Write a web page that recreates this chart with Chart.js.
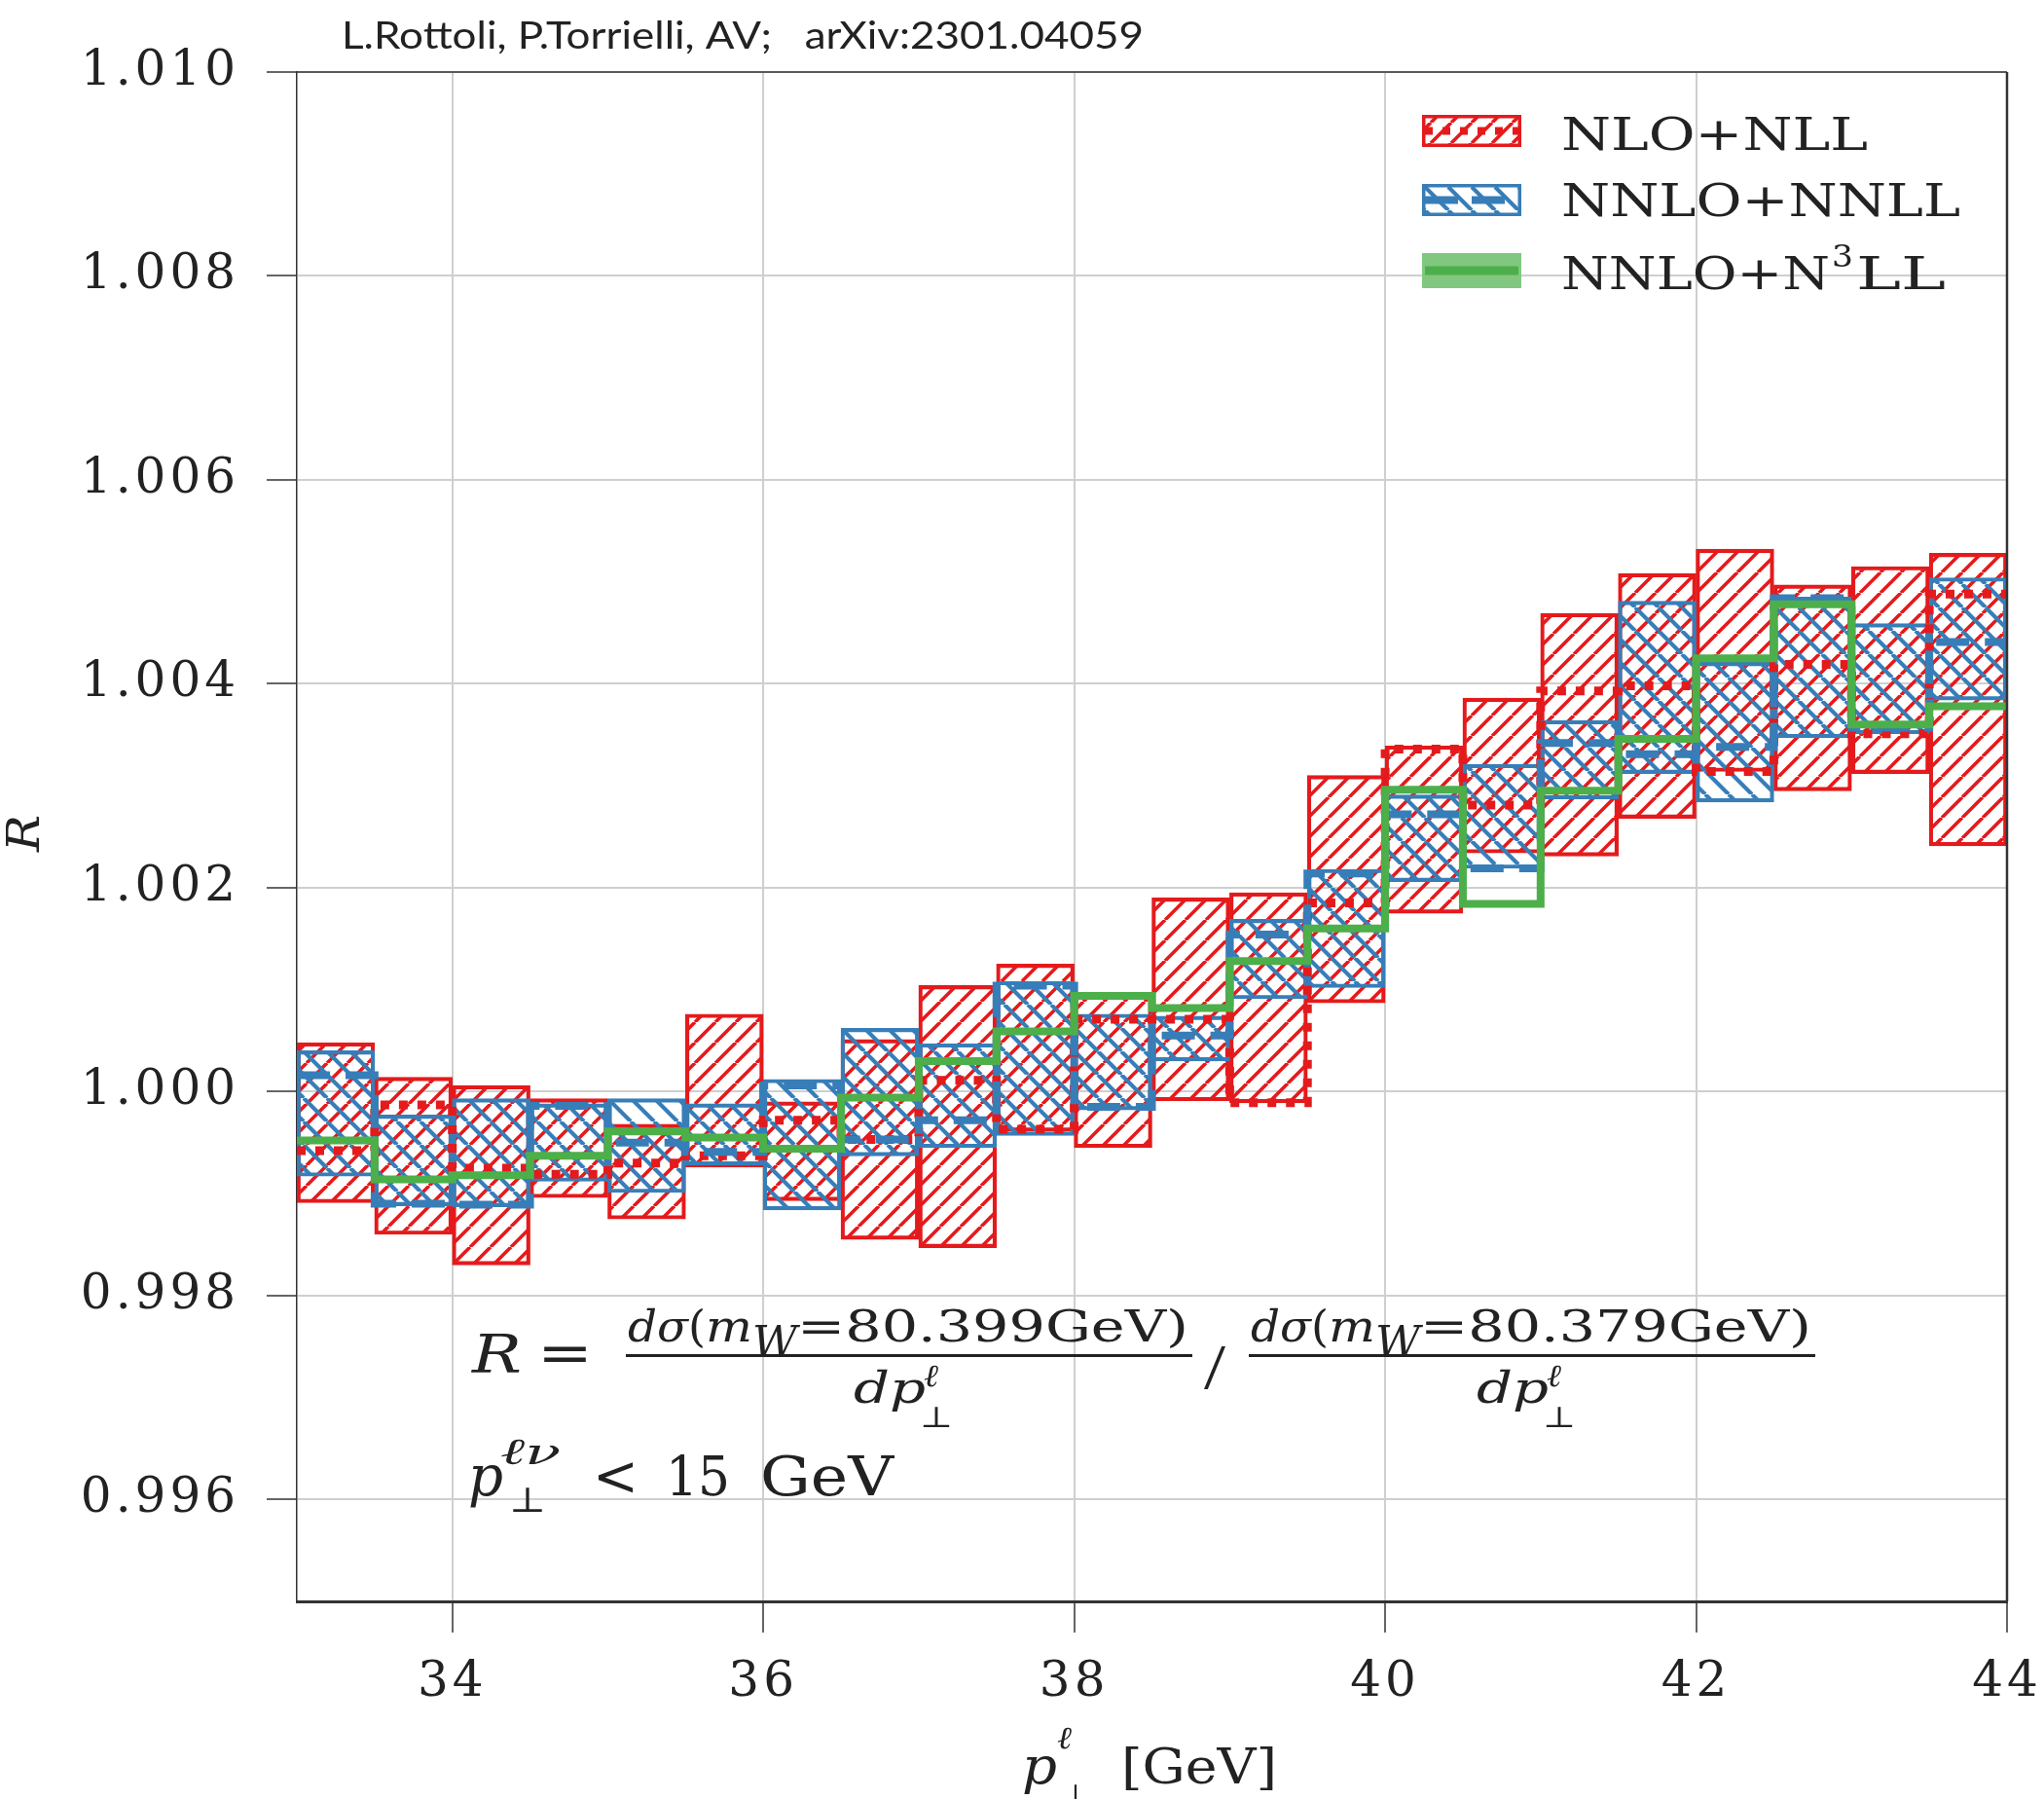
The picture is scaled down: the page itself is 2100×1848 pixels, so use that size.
<!DOCTYPE html>
<html>
<head>
<meta charset="utf-8">
<script src="https://cdn.jsdelivr.net/npm/chart.js@4.4.1/dist/chart.umd.min.js"></script>
<style>
  html, body { margin: 0; padding: 0; background: #fff; }
  #wrap { width: 2100px; height: 1848px; }
</style>
</head>
<body>
<div id="wrap"><canvas id="myChart" width="2100" height="1848"></canvas></div>
<script>
// lower edge of each p_T bin (GeV), bins are 0.5 GeV wide
const binLo = [33.0, 33.5, 34.0, 34.5, 35.0, 35.5, 36.0, 36.5, 37.0, 37.5, 38.0,
               38.5, 39.0, 39.5, 40.0, 40.5, 41.0, 41.5, 42.0, 42.5, 43.0, 43.5];
const binWidth = 0.5;

// NLO+NLL band (red) and central value
const nloUp  = [1.00048, 1.00014, 1.00006, 0.99993, 0.99968, 1.00076, 0.99990, 1.00051, 1.00104, 1.00125, 1.00096,
                1.00190, 1.00195, 1.00310, 1.00339, 1.00386, 1.00469, 1.00508, 1.00532, 1.00497, 1.00515, 1.00528];
const nloLo  = [0.99891, 0.99860, 0.99830, 0.99896, 0.99875, 0.99926, 0.99893, 0.99855, 0.99847, 0.99961, 0.99945,
                0.99991, 0.99989, 1.00087, 1.00175, 1.00234, 1.00231, 1.00268, 1.00314, 1.00295, 1.00312, 1.00241];
const nloMid = [0.99942, 0.99987, 0.99925, 0.99919, 0.99930, 0.99937, 0.99972, 0.99953, 1.00011, 0.99963, 1.00071,
                1.00071, 0.99989, 1.00185, 1.00336, 1.00281, 1.00393, 1.00398, 1.00314, 1.00419, 1.00351, 1.00488];

// NNLO+NNLL band (blue) and central value
const nnloUp  = [1.00040, 0.99977, 0.99993, 0.99988, 0.99993, 0.99988, 1.00012, 1.00062, 1.00047, 1.00108, 1.00076,
                 1.00074, 1.00169, 1.00218, 1.00291, 1.00321, 1.00364, 1.00481, 1.00421, 1.00485, 1.00459, 1.00504];
const nnloLo  = [0.99917, 0.99888, 0.99887, 0.99912, 0.99901, 0.99928, 0.99884, 0.99937, 0.99945, 0.99957, 0.99982,
                 1.00030, 1.00091, 1.00102, 1.00206, 1.00219, 1.00287, 1.00312, 1.00284, 1.00347, 1.00351, 1.00384];
const nnloMid = [1.00016, 0.99890, 0.99889, 0.99986, 0.99950, 0.99941, 1.00006, 0.99953, 0.99972, 1.00104, 0.99985,
                 1.00055, 1.00154, 1.00214, 1.00272, 1.00219, 1.00342, 1.00331, 1.00338, 1.00484, 1.00357, 1.00441];

// NNLO+N3LL central value (green)
const n3llMid = [0.99952, 0.99914, 0.99918, 0.99937, 0.99961, 0.99955, 0.99944, 0.99994, 1.00030, 1.00059, 1.00094,
                 1.00082, 1.00128, 1.00160, 1.00296, 1.00184, 1.00295, 1.00346, 1.00425, 1.00478, 1.00360, 1.00378];

const seriesNames = ["NLO+NLL", "NNLO+NNLL", "NNLO+N3LL"];
const xTicks = [34, 36, 38, 40, 42, 44];
const yTicks = [0.996, 0.998, 1.000, 1.002, 1.004, 1.006, 1.008, 1.010];

const RED = "#e41a1c", BLUE = "#377eb8", GREEN = "#4daf4a";
const SERIF = '"DejaVu Serif", "Liberation Serif", serif';
const THIN = '"Liberation Serif", serif';
const INK = "#222";

const canvas = document.getElementById('myChart');
const ctx0 = canvas.getContext('2d');

function hatch(color, dir, size, lw) {
    const c = document.createElement('canvas');
    c.width = size; c.height = size;
    const g = c.getContext('2d');
    g.strokeStyle = color; g.lineWidth = lw;
    g.beginPath();
    for (let k = -1; k <= 1; k++) {
        if (dir > 0) { g.moveTo(k * size, size); g.lineTo(k * size + size, 0); }
        else { g.moveTo(k * size, 0); g.lineTo(k * size + size, size); }
    }
    g.stroke();
    return ctx0.createPattern(c, 'repeat');
}
const redHatch = hatch(RED, 1, 21, 3.6);
const blueHatch = hatch(BLUE, -1, 24, 4.2);

const bands = (lo, up) => binLo.map((x, i) => ({x: x + binWidth / 2, y: [lo[i], up[i]]}));
const steps = vals => binLo.map((x, i) => ({x: x, y: vals[i]}))
    .concat([{x: binLo[binLo.length - 1] + binWidth, y: vals[vals.length - 1]}]);

// draws s starting at x, stretched horizontally to width w (if given); returns end x
function put(ctx, s, x, y, font, w) {
    ctx.save();
    ctx.font = font;
    ctx.letterSpacing = '0px';
    ctx.fillStyle = INK;
    ctx.textBaseline = 'alphabetic';
    ctx.textAlign = 'left';
    const m = ctx.measureText(s).width;
    const sx = w ? w / m : 1;
    ctx.translate(x, y);
    ctx.scale(sx, 1);
    ctx.fillText(s, 0, 0);
    ctx.restore();
    return x + m * sx;
}

const decorations = {
    id: 'decorations',
    beforeDraw(chart) {
        chart.ctx.letterSpacing = '4px';
    },
    afterDraw(chart) {
        const ctx = chart.ctx;
        const a = chart.chartArea;

        // frame
        ctx.save();
        ctx.strokeStyle = "#333";
        ctx.lineWidth = 1.5;
        ctx.beginPath(); ctx.moveTo(a.left, a.top); ctx.lineTo(a.right, a.top); ctx.stroke();
        ctx.lineWidth = 2.5;
        ctx.beginPath(); ctx.moveTo(a.right, a.top); ctx.lineTo(a.right, a.bottom); ctx.stroke();
        ctx.restore();

        // credit line
        put(ctx, "L.Rottoli, P.Torrielli, AV;   arXiv:2301.04059", 351, 50, `39px Lato, "Open Sans", sans-serif`, 824);

        // axis titles
        ctx.save();
        ctx.translate(40, 857);
        ctx.rotate(-Math.PI / 2);
        put(ctx, "R", -18, 0, `italic 46px ${SERIF}`, 38);
        ctx.restore();
        put(ctx, "p", 1050, 1832, `italic 52px ${SERIF}`, 36);
        put(ctx, "ℓ", 1086, 1796, `italic 32px ${SERIF}`, 15);
        put(ctx, "⊥", 1092, 1858, `36px ${SERIF}`, 26);
        put(ctx, "[GeV]", 1152, 1832, `50px ${SERIF}`, 160);

        // legend
        const sw = [
            {y: 118, h: 33, fill: redHatch, line: RED, dash: [8, 10], lw: 8},
            {y: 189, h: 33, fill: blueHatch, line: BLUE, dash: [34, 14], lw: 8},
            {y: 260, h: 36, fill: "rgba(77,175,74,0.7)", line: GREEN, dash: [], lw: 9}
        ];
        sw.forEach((s, i) => {
            ctx.save();
            ctx.fillStyle = "#fff";
            ctx.fillRect(1461, s.y, 102, s.h);
            ctx.fillStyle = s.fill;
            ctx.fillRect(1461, s.y, 102, s.h);
            if (i < 2) {
                ctx.strokeStyle = s.line; ctx.lineWidth = 3.5;
                ctx.strokeRect(1462.75, s.y + 1.75, 98.5, s.h - 3.5);
            }
            ctx.strokeStyle = s.line; ctx.lineWidth = s.lw;
            ctx.setLineDash(s.dash);
            ctx.beginPath(); ctx.moveTo(1464, s.y + s.h / 2); ctx.lineTo(1560, s.y + s.h / 2); ctx.stroke();
            ctx.restore();
        });
        const lf = `46px ${SERIF}`;
        put(ctx, seriesNames[0], 1604, 154, lf, 315);
        put(ctx, seriesNames[1], 1604, 222, lf, 410);
        let x = put(ctx, "NNLO+N", 1604, 297, lf, 276);
        x = put(ctx, "3", x + 2, 274, `32px ${SERIF}`, 22);
        put(ctx, "LL", x + 3, 297, lf, 92);

        // formula
        put(ctx, "R", 485, 1410, `italic 54px ${SERIF}`, 51);
        put(ctx, "=", 552, 1409, `56px ${SERIF}`, 57);
        const it = `italic 44px ${SERIF}`, rm = `44px ${SERIF}`;
        [[645, "80.399"], [1285, "80.379"]].forEach(([x0, mass]) => {
            let xx = put(ctx, "dσ", x0, 1378, it, 62);
            xx = put(ctx, "(", xx, 1378, rm, 18);
            xx = put(ctx, "m", xx, 1378, it, 48);
            xx = put(ctx, "W", xx, 1394, it, 46);
            put(ctx, "=" + mass + "GeV)", xx, 1378, rm, x0 + 576 - xx);
            ctx.fillStyle = INK;
            ctx.fillRect(x0 - 2, 1391, 582, 3);
            const cx = x0 + 232;
            let dx = put(ctx, "dp", cx, 1441, it, 74);
            put(ctx, "ℓ", dx - 2, 1424, `italic 32px ${SERIF}`, 15);
            put(ctx, "⊥", dx - 6, 1466, `30px ${SERIF}`, 34);
        });
        put(ctx, "/", 1237, 1426, `66px ${THIN}`, 22);

        put(ctx, "p", 481, 1536, `italic 58px ${SERIF}`, 36);
        put(ctx, "ℓν", 514, 1504, `italic 38px ${SERIF}`, 62);
        put(ctx, "⊥", 523, 1553, `36px ${SERIF}`, 38);
        put(ctx, "<", 609, 1536, `58px ${SERIF}`, 47);
        put(ctx, "15", 684, 1536, `56px ${SERIF}`, 66);
        put(ctx, "GeV", 781, 1536, `56px ${SERIF}`, 137);
    }
};

new Chart(canvas, {
    type: "bar",
    data: {
        datasets: [
            {
                type: "line", label: seriesNames[2], data: steps(n3llMid), stepped: true,
                borderColor: GREEN, borderWidth: 8, pointRadius: 0, fill: false, order: 1
            },
            {
                type: "line", label: seriesNames[1] + " central", data: steps(nnloMid), stepped: true,
                borderColor: BLUE, borderWidth: 8, borderDash: [34, 16], pointRadius: 0, fill: false, order: 2
            },
            {
                type: "line", label: seriesNames[0] + " central", data: steps(nloMid), stepped: true,
                borderColor: RED, borderWidth: 9, borderDash: [9, 10], pointRadius: 0, fill: false, order: 3
            },
            {
                label: seriesNames[1], data: bands(nnloLo, nnloUp),
                backgroundColor: blueHatch, borderColor: BLUE, borderWidth: 3.5, borderSkipped: false,
                grouped: false, barPercentage: 1, categoryPercentage: 1, order: 4
            },
            {
                label: seriesNames[0], data: bands(nloLo, nloUp),
                backgroundColor: redHatch, borderColor: RED, borderWidth: 3.5, borderSkipped: false,
                grouped: false, barPercentage: 1, categoryPercentage: 1, order: 5
            }
        ]
    },
    options: {
        responsive: false,
        devicePixelRatio: 1,
        animation: false,
        events: [],
        layout: {padding: {top: 74, right: 38, left: 0, bottom: 0}},
        plugins: {
            legend: {display: false},
            tooltip: {enabled: false}
        },
        scales: {
            x: {
                type: "linear", min: 33, max: 44, offset: false,
                afterFit: s => { s.height = 203; s.paddingLeft = 0; s.paddingRight = 0; },
                afterBuildTicks: s => { s.ticks = xTicks.map(v => ({value: v})); },
                grid: {offset: false, color: "#cfcfcf", lineWidth: 2, tickLength: 32, tickColor: "#333", tickWidth: 1.5},
                border: {color: "#333", width: 3},
                ticks: {
                    autoSkip: false, maxRotation: 0, padding: 22, color: INK,
                    font: {family: SERIF, size: 50},
                    callback: v => String(v)
                }
            },
            y: {
                min: 0.995, max: 1.010,
                afterFit: s => { s.width = 305; s.paddingTop = 0; s.paddingBottom = 0; },
                afterBuildTicks: s => { s.ticks = yTicks.map(v => ({value: v})); },
                grid: {color: "#cfcfcf", lineWidth: 2, tickLength: 31, tickColor: "#333", tickWidth: 1.5},
                border: {color: "#333", width: 1.5},
                ticks: {
                    padding: 28, color: INK,
                    font: {family: SERIF, size: 50},
                    callback: v => v.toFixed(3)
                }
            }
        }
    },
    plugins: [decorations]
});
</script>
</body>
</html>
